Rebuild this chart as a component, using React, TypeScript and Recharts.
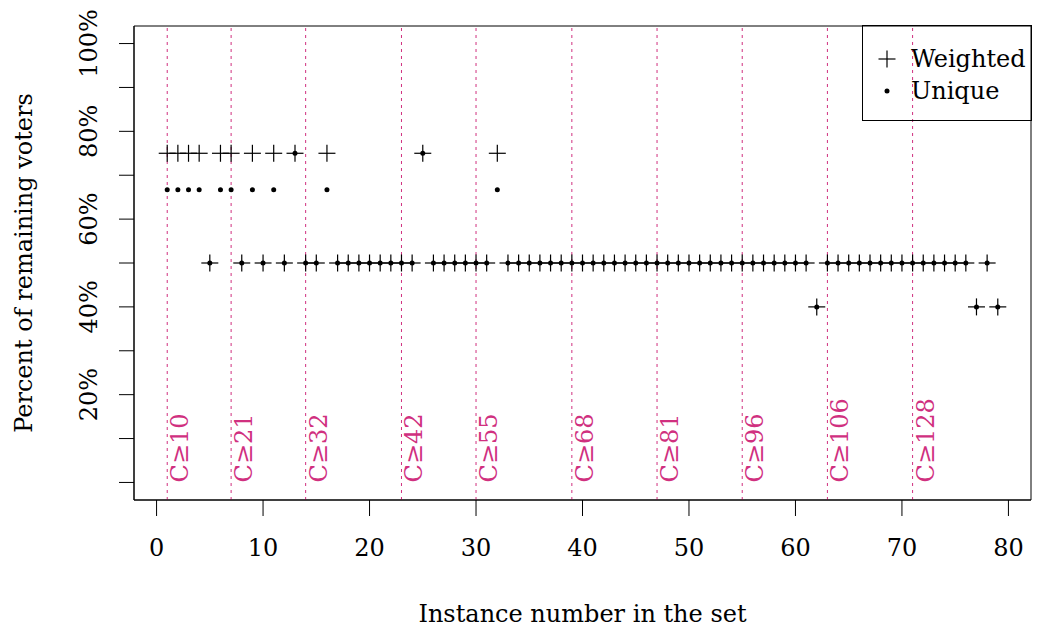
import React from 'react';
import { ScatterChart, Scatter, XAxis, YAxis, ReferenceLine, ReferenceArea } from 'recharts';

// Instance numbers in the set
const instances = [
  1, 2, 3, 4, 5, 6, 7, 8, 9, 10,
  11, 12, 13, 14, 15, 16, 17, 18, 19, 20,
  21, 22, 23, 24, 25, 26, 27, 28, 29, 30,
  31, 32, 33, 34, 35, 36, 37, 38, 39, 40,
  41, 42, 43, 44, 45, 46, 47, 48, 49, 50,
  51, 52, 53, 54, 55, 56, 57, 58, 59, 60,
  61, 62, 63, 64, 65, 66, 67, 68, 69, 70,
  71, 72, 73, 74, 75, 76, 77, 78, 79,
];

// Percent of remaining voters, weighted count
const weighted = [
  75, 75, 75, 75, 50, 75, 75, 50, 75, 50,
  75, 50, 75, 50, 50, 75, 50, 50, 50, 50,
  50, 50, 50, 50, 75, 50, 50, 50, 50, 50,
  50, 75, 50, 50, 50, 50, 50, 50, 50, 50,
  50, 50, 50, 50, 50, 50, 50, 50, 50, 50,
  50, 50, 50, 50, 50, 50, 50, 50, 50, 50,
  50, 40, 50, 50, 50, 50, 50, 50, 50, 50,
  50, 50, 50, 50, 50, 50, 40, 50, 40,
];

// Percent of remaining voters, unique count
const unique = [
  66.67, 66.67, 66.67, 66.67, 50, 66.67, 66.67, 50, 66.67, 50,
  66.67, 50, 75, 50, 50, 66.67, 50, 50, 50, 50,
  50, 50, 50, 50, 75, 50, 50, 50, 50, 50,
  50, 66.67, 50, 50, 50, 50, 50, 50, 50, 50,
  50, 50, 50, 50, 50, 50, 50, 50, 50, 50,
  50, 50, 50, 50, 50, 50, 50, 50, 50, 50,
  50, 40, 50, 50, 50, 50, 50, 50, 50, 50,
  50, 50, 50, 50, 50, 50, 40, 50, 40,
];

// Candidate-count thresholds: first instance reaching each
const cutInstances = [1, 7, 14, 23, 30, 39, 47, 55, 63, 71];
const cutLabels = ['C≥10', 'C≥21', 'C≥32', 'C≥42', 'C≥55', 'C≥68', 'C≥81', 'C≥96', 'C≥106', 'C≥128'];

const xTicks = [0, 10, 20, 30, 40, 50, 60, 70, 80];
const yTicks = [0, 10, 20, 30, 40, 50, 60, 70, 80, 90, 100];
const yLabelled = [20, 40, 60, 80, 100];

const xDomain: [number, number] = [-2.12, 82.12];
const yDomain: [number, number] = [-4, 104];

const FONT = "'DejaVu Serif', serif";
const PINK = '#d0307f';
const INK = '#000';

const weightedData = instances.map((x, i) => ({ x, y: weighted[i] }));
const uniqueData = instances.map((x, i) => ({ x, y: unique[i] }));
const cutData = cutInstances.map((x, i) => ({ x, y: 0, label: cutLabels[i] }));

const PlusShape = (props: any) => {
  const { cx, cy } = props;
  const a = 8.5;
  return (
    <g>
      <line x1={cx - a} y1={cy} x2={cx + a} y2={cy} stroke={INK} strokeWidth={1.2} />
      <line x1={cx} y1={cy - a} x2={cx} y2={cy + a} stroke={INK} strokeWidth={1.2} />
    </g>
  );
};

const DotShape = (props: any) => {
  const { cx, cy } = props;
  return <circle cx={cx} cy={cy} r={2.5} fill={INK} />;
};

const CutLabel = (props: any) => {
  const { cx, cy, payload } = props;
  const bx = cx + 21;
  return (
    <text
      x={bx}
      y={cy}
      transform={`rotate(-90, ${bx}, ${cy})`}
      textAnchor="start"
      fontFamily={FONT}
      fontSize={24}
      fill={PINK}
    >
      {payload.label}
    </text>
  );
};

const XTick = (props: any) => {
  const { x, y, payload } = props;
  return (
    <text x={x} y={y + 38} textAnchor="middle" fontFamily={FONT} fontSize={24} fill={INK}>
      {payload.value}
    </text>
  );
};

const YTick = (props: any) => {
  const { x, y, payload } = props;
  if (!yLabelled.includes(payload.value)) return <g />;
  const bx = x - 20;
  return (
    <text
      x={bx}
      y={y}
      transform={`rotate(-90, ${bx}, ${y})`}
      textAnchor="middle"
      fontFamily={FONT}
      fontSize={24}
      fill={INK}
    >
      {`${payload.value}%`}
    </text>
  );
};

const LegendBox = () => (
  <svg
    width={170}
    height={96}
    style={{ position: 'absolute', left: 862, top: 25, overflow: 'visible' }}
  >
    <rect x={0.5} y={0.5} width={169} height={95} fill="none" stroke={INK} strokeWidth={1} />
    <PlusShape cx={25} cy={34} />
    <DotShape cx={25} cy={66} />
    <text x={49} y={41.5} fontFamily={FONT} fontSize={24} fill={INK}>Weighted</text>
    <text x={49} y={73.5} fontFamily={FONT} fontSize={24} fill={INK}>Unique</text>
  </svg>
);

export default function App() {
  return (
    <div style={{ position: 'absolute', left: 0, top: 0, width: 1038, height: 630, background: '#fff' }}>
      <ScatterChart
        width={1038}
        height={630}
        margin={{ top: 26, right: 7, bottom: 100, left: 74 }}
      >
        <XAxis
          type="number"
          dataKey="x"
          domain={xDomain}
          allowDataOverflow
          ticks={xTicks}
          interval={0}
          tickSize={16}
          tickLine={{ stroke: INK }}
          axisLine={{ stroke: INK }}
          tick={<XTick />}
          height={30}
        />
        <YAxis
          type="number"
          dataKey="y"
          domain={yDomain}
          allowDataOverflow
          ticks={yTicks}
          interval={0}
          tickSize={15}
          tickLine={{ stroke: INK }}
          axisLine={{ stroke: INK }}
          tick={<YTick />}
          width={60}
        />
        <ReferenceArea
          x1={xDomain[0]}
          x2={xDomain[1]}
          y1={yDomain[0]}
          y2={yDomain[1]}
          fill="none"
          fillOpacity={0}
          stroke={INK}
          strokeOpacity={1}
          strokeWidth={1}
        />
        {cutInstances.map((c) => (
          <ReferenceLine key={c} x={c} stroke={PINK} strokeWidth={1} strokeDasharray="3 4" />
        ))}
        <Scatter name="Weighted" data={weightedData} shape={<PlusShape />} isAnimationActive={false} />
        <Scatter name="Unique" data={uniqueData} shape={<DotShape />} isAnimationActive={false} />
        <Scatter name="Thresholds" data={cutData} shape={<CutLabel />} isAnimationActive={false} />
      </ScatterChart>
      <LegendBox />
      <svg width={1038} height={630} style={{ position: 'absolute', left: 0, top: 0, pointerEvents: 'none' }}>
        <text x={582.5} y={622} textAnchor="middle" fontFamily={FONT} fontSize={24} fill={INK}>
          Instance number in the set
        </text>
        <text
          x={32}
          y={263}
          transform="rotate(-90, 32, 263)"
          textAnchor="middle"
          fontFamily={FONT}
          fontSize={24}
          fill={INK}
        >
          Percent of remaining voters
        </text>
      </svg>
    </div>
  );
}
